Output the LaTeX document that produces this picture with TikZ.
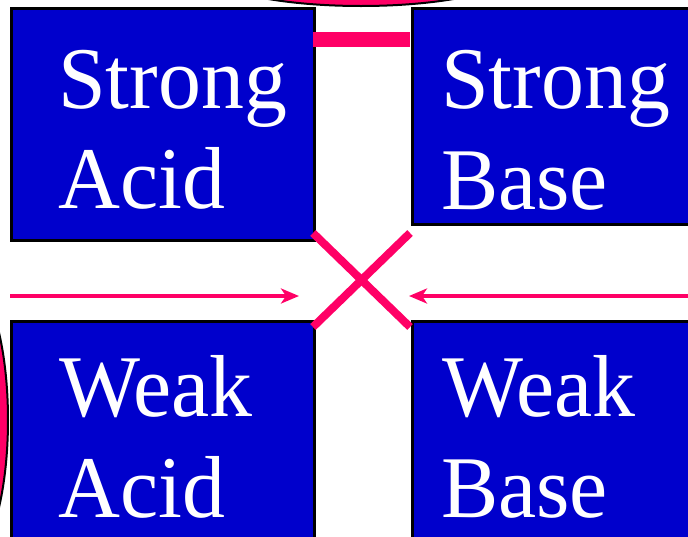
\documentclass[tikz,border=0pt]{standalone}
\usepackage{fontspec}
\setmainfont{Liberation Serif}[FakeStretch=0.975]
\usetikzlibrary{arrows.meta}
\definecolor{boxblue}{HTML}{0000CC}
\definecolor{hotpink}{HTML}{FF0066}
\begin{document}
\begin{tikzpicture}[x=1pt,y=-1pt,
  box/.style={draw=black,line width=2.5pt,fill=boxblue,minimum width=#1,anchor=north west,inner sep=0pt,rectangle},
  word/.style={anchor=base west,inner sep=0pt,text=white,font=\fontsize{88}{100}\selectfont},
  blob/.style={draw=black,line width=2pt,fill=hotpink},
  pinkline/.style={draw=hotpink,line width=#1},
  arr/.style={draw=hotpink,line width=4.5pt,-{Stealth[length=18pt,width=15pt,inset=5pt]}}]
\useasboundingbox (0,0) rectangle (688,536);
% ellipses
\path[blob] (361,-32) ellipse [x radius=160, y radius=38];
\path[blob] (-40,420) ellipse [x radius=48, y radius=150];
% boxes
\node[box=303pt,minimum height=232pt] (sa) at (10,7) {};
\node[box=290pt,minimum height=216pt] (sb) at (411,7) {};
\node[box=303pt,minimum height=230pt] (wa) at (10,320) {};
\node[box=290pt,minimum height=230pt] (wb) at (411,320) {};
% texts
\node[word] (sa1) at (58,108) {Strong};
\node[word] (sa2) at (58,208) {Acid};
\node[word] (sb1) at (441,108) {Strong};
\node[word] (sb2) at (441,209) {Base};
\node[word] (wa1) at (59,416) {Weak};
\node[word] (wa2) at (58,517) {Acid};
\node[word] (wb1) at (442,416) {Weak};
\node[word] (wb2) at (441,517) {Base};
% connectors
\coordinate (barL) at (313,39.5);
\coordinate (barR) at (410,39.5);
\draw[pinkline=15pt] (barL) -- (barR);
\coordinate (x1) at (313,233);
\coordinate (x2) at (410,327);
\coordinate (x3) at (410,233);
\coordinate (x4) at (313,327);
\draw[pinkline=8pt] (x1) -- (x2);
\draw[pinkline=8pt] (x3) -- (x4);
\coordinate (aL) at (10,296);
\coordinate (aLt) at (299,296);
\coordinate (aR) at (688,296);
\coordinate (aRt) at (409,296);
\draw[arr] (aL) -- (aLt);
\draw[arr] (aR) -- (aRt);
\end{tikzpicture}
\end{document}
